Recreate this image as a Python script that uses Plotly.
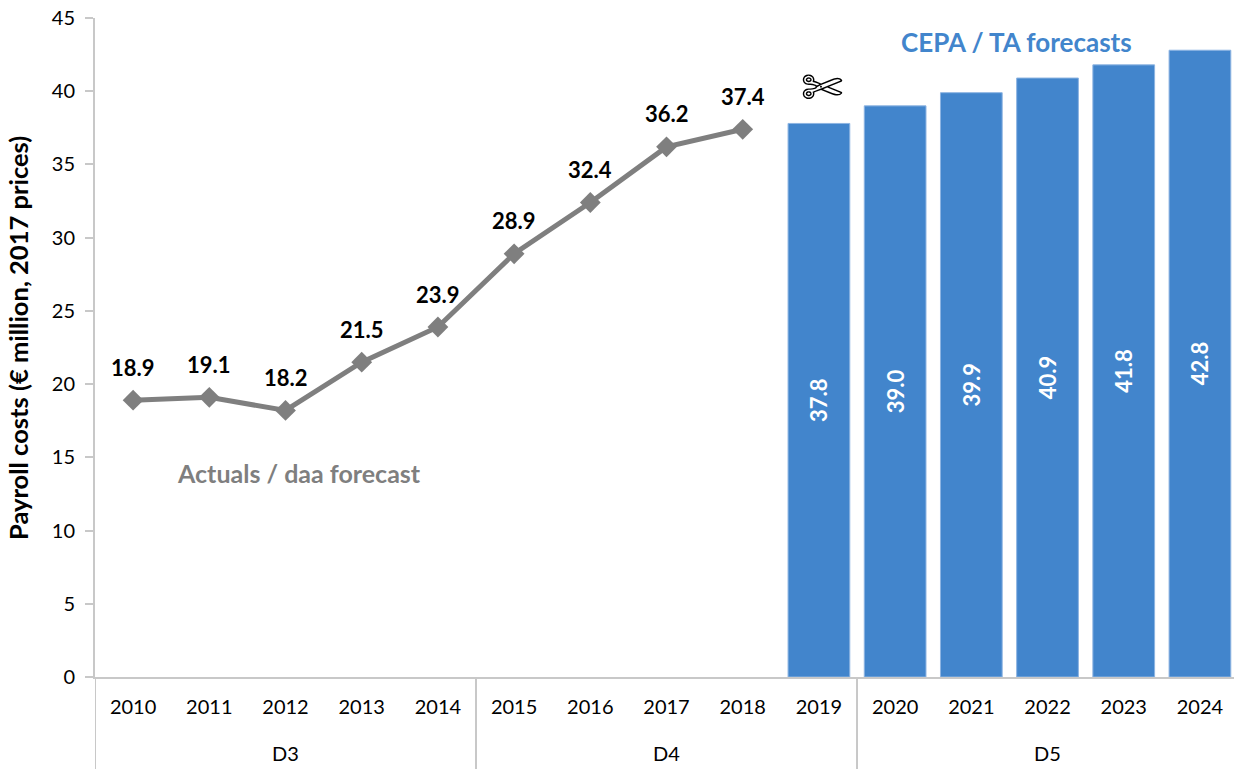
import plotly.graph_objects as go

years = [str(y) for y in range(2010, 2025)]
line_years = years[:9]
line_values = [18.9, 19.1, 18.2, 21.5, 23.9, 28.9, 32.4, 36.2, 37.4]
bar_years = years[9:]
bar_values = [37.8, 39.0, 39.9, 40.9, 41.8, 42.8]
y_ticks = list(range(0, 50, 5))
period_names = ["D3", "D4", "D5"]
period_centres = [2, 7, 12]
period_edges = [-0.5, 4.5, 9.5]

FONT = "Lato"
GRAY = "#7F7F7F"
BLUE = "#4285CC"
AXIS = "#C8C8C8"

fig = go.Figure()
fig.add_trace(go.Bar(
    x=bar_years, y=bar_values, marker=dict(color=BLUE, line=dict(color="#8DB4E2", width=1)),
    text=[f"{v:.1f}" for v in bar_values], textposition="inside", insidetextanchor="middle",
    textangle=-90, textfont=dict(color="white", size=22, family=FONT, weight="bold"),
    showlegend=False, hoverinfo="skip"))
fig.add_trace(go.Scatter(
    x=line_years, y=line_values, mode="lines+markers",
    line=dict(color=GRAY, width=5), marker=dict(symbol="diamond", size=16, color=GRAY),
    showlegend=False, hoverinfo="skip"))

annotations = [
    dict(x=i, y=v, yshift=33, text=f"<b>{v:.1f}</b>", showarrow=False,
         font=dict(size=22, color="black", family=FONT))
    for i, v in enumerate(line_values)
]
annotations += [
    dict(x=c, xref="x", yref="paper", y=0, yshift=-76, text=n, showarrow=False,
         yanchor="middle", font=dict(size=20, color="black", family=FONT))
    for c, n in zip(period_centres, period_names)
]
annotations += [
    dict(x=2, y=13.9, xshift=13, text="<b>Actuals / daa forecast</b>", showarrow=False,
         font=dict(size=25, color=GRAY, family=FONT)),
    dict(x=12, y=43.35, xshift=-31, text="<b>CEPA / TA forecasts</b>", showarrow=False,
         font=dict(size=26, color=BLUE, family=FONT)),
    dict(x=9, y=40.25, xshift=3, text="\u2704", showarrow=False,
         font=dict(size=50, color="black", family="DejaVu Sans")),
    dict(xref="paper", x=0, xshift=-94, y=23.15, textangle=-90,
         text="<b>Payroll costs (€ million, 2017 prices)</b>", showarrow=False,
         font=dict(size=25.5, color="black", family=FONT)),
]
shapes = [
    dict(type="line", xref="x", yref="paper", x0=e, x1=e, y0=0, y1=-0.15,
         line=dict(color=AXIS, width=2))
    for e in period_edges
]

fig.update_layout(
    width=1234, height=769, margin=dict(l=95, r=0, t=18, b=92),
    paper_bgcolor="white", plot_bgcolor="white", bargap=0.19,
    font=dict(family=FONT, size=20, color="black"),
    xaxis=dict(type="category", categoryorder="array", categoryarray=years, range=[-0.5, 14.447],
               showline=True, linecolor=AXIS, linewidth=2, ticks="", showgrid=False,
               tickfont=dict(size=20, family=FONT), ticklabelstandoff=11),
    yaxis=dict(range=[0, 45], tickvals=y_ticks, showline=True, linecolor=AXIS, linewidth=2,
               ticks="outside", ticklen=8, tickcolor=AXIS, tickwidth=2, showgrid=False, zeroline=False,
               tickfont=dict(size=20, family=FONT), ticklabelstandoff=6),
    annotations=annotations,
    shapes=shapes,
)
fig.write_html("out.html", config=dict(displayModeBar=False),
               post_script="document.body.style.margin='0';document.body.style.overflow='hidden';")
